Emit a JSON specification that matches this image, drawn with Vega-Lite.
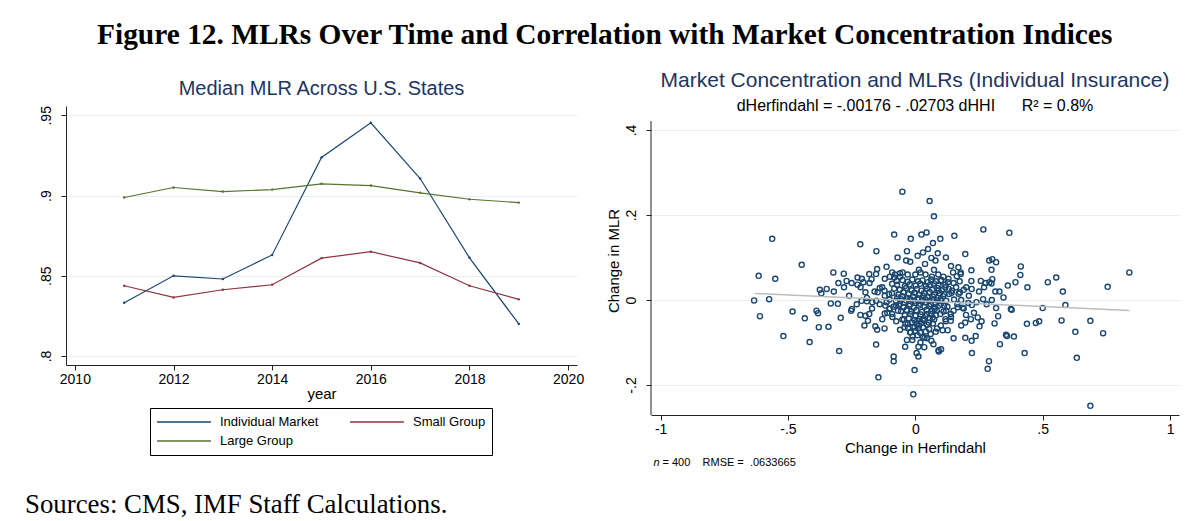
{
  "$schema": "https://vega.github.io/schema/vega-lite/v6.json",
  "background": "white",
  "padding": {"left": 25, "top": 19, "right": 5, "bottom": 5},
  "title": {"text": "Figure 12. MLRs Over Time and Correlation with Market Concentration Indices", "font": "Liberation Serif", "fontSize": 29.4, "fontWeight": "bold", "color": "#000000", "anchor": "start", "dx": 72, "offset": 20},
  "spacing": 22,
  "datasets": {
    "mlr": [
      {"year": 2011, "series": "Individual Market", "mlr": 0.8332},
      {"year": 2012, "series": "Individual Market", "mlr": 0.8500},
      {"year": 2013, "series": "Individual Market", "mlr": 0.8480},
      {"year": 2014, "series": "Individual Market", "mlr": 0.8630},
      {"year": 2015, "series": "Individual Market", "mlr": 0.9237},
      {"year": 2016, "series": "Individual Market", "mlr": 0.9453},
      {"year": 2017, "series": "Individual Market", "mlr": 0.9106},
      {"year": 2018, "series": "Individual Market", "mlr": 0.8612},
      {"year": 2019, "series": "Individual Market", "mlr": 0.8200},
      {"year": 2011, "series": "Small Group", "mlr": 0.8438},
      {"year": 2012, "series": "Small Group", "mlr": 0.8365},
      {"year": 2013, "series": "Small Group", "mlr": 0.8413},
      {"year": 2014, "series": "Small Group", "mlr": 0.8444},
      {"year": 2015, "series": "Small Group", "mlr": 0.8610},
      {"year": 2016, "series": "Small Group", "mlr": 0.8650},
      {"year": 2017, "series": "Small Group", "mlr": 0.8580},
      {"year": 2018, "series": "Small Group", "mlr": 0.8438},
      {"year": 2019, "series": "Small Group", "mlr": 0.8353},
      {"year": 2011, "series": "Large Group", "mlr": 0.8988},
      {"year": 2012, "series": "Large Group", "mlr": 0.9050},
      {"year": 2013, "series": "Large Group", "mlr": 0.9025},
      {"year": 2014, "series": "Large Group", "mlr": 0.9037},
      {"year": 2015, "series": "Large Group", "mlr": 0.9073},
      {"year": 2016, "series": "Large Group", "mlr": 0.9062},
      {"year": 2017, "series": "Large Group", "mlr": 0.9017},
      {"year": 2018, "series": "Large Group", "mlr": 0.8977},
      {"year": 2019, "series": "Large Group", "mlr": 0.8956}
    ],
    "fit": [{"x": -0.63, "y": 0.0153}, {"x": 0.84, "y": -0.0245}],
    "pts": [
{"x":-0.051,"y":0.255},{"x":0.056,"y":0.233},{"x":0.073,"y":0.197},{"x":-0.562,"y":0.144},{"x":-0.083,"y":0.154},{"x":-0.018,"y":0.144},{"x":0.024,"y":0.154},{"x":0.044,"y":0.159},{"x":0.069,"y":0.134},{"x":0.098,"y":0.144},
{"x":0.153,"y":0.151},{"x":0.267,"y":0.166},{"x":0.369,"y":0.158},{"x":-0.216,"y":0.131},{"x":-0.153,"y":0.115},{"x":-0.033,"y":0.115},{"x":0.009,"y":0.104},{"x":0.030,"y":0.112},{"x":0.088,"y":0.110},{"x":0.196,"y":0.108},
{"x":-0.036,"y":0.093},{"x":0.063,"y":0.099},{"x":0.079,"y":0.093},{"x":0.038,"y":0.085},{"x":-0.446,"y":0.083},{"x":-0.113,"y":0.078},{"x":-0.150,"y":0.073},{"x":0.014,"y":0.071},{"x":0.073,"y":0.071},{"x":0.169,"y":0.077},
{"x":0.290,"y":0.093},{"x":0.302,"y":0.096},{"x":0.317,"y":0.089},{"x":0.414,"y":0.079},{"x":0.299,"y":0.071},{"x":-0.615,"y":0.057},{"x":-0.550,"y":0.050},{"x":-0.322,"y":0.065},{"x":-0.281,"y":0.062},{"x":0.840,"y":0.065},
{"x":0.412,"y":0.059},{"x":0.553,"y":0.053},{"x":0.520,"y":0.042},{"x":0.393,"y":0.042},{"x":0.363,"y":0.034},{"x":0.755,"y":0.031},{"x":0.579,"y":0.020},{"x":0.314,"y":0.020},{"x":0.346,"y":0.006},{"x":0.266,"y":0.002},
{"x":-0.633,"y":-0.001},{"x":-0.574,"y":0.002},{"x":-0.610,"y":-0.038},{"x":-0.482,"y":-0.027},{"x":-0.434,"y":-0.043},{"x":-0.518,"y":-0.085},{"x":-0.415,"y":-0.099},{"x":-0.379,"y":-0.064},{"x":-0.341,"y":-0.063},{"x":-0.388,"y":-0.025},
{"x":-0.382,"y":-0.031},{"x":-0.332,"y":-0.008},{"x":-0.304,"y":-0.009},{"x":-0.293,"y":-0.042},{"x":-0.299,"y":-0.120},{"x":-0.375,"y":0.024},{"x":-0.348,"y":0.026},{"x":-0.369,"y":0.016},{"x":-0.302,"y":0.040},{"x":-0.270,"y":0.045},
{"x":-0.227,"y":0.053},{"x":-0.249,"y":-0.021},{"x":-0.252,"y":-0.025},{"x":-0.216,"y":-0.035},{"x":-0.196,"y":-0.037},{"x":-0.186,"y":-0.049},{"x":-0.157,"y":-0.062},{"x":-0.154,"y":-0.105},{"x":-0.145,"y":-0.182},{"x":-0.121,"y":-0.067},
{"x":-0.120,"y":-0.032},{"x":-0.085,"y":-0.133},{"x":-0.085,"y":-0.144},{"x":-0.003,"y":-0.165},{"x":-0.008,"y":-0.222},{"x":0.005,"y":-0.125},{"x":0.012,"y":-0.133},{"x":0.012,"y":-0.110},{"x":0.035,"y":-0.111},{"x":0.036,"y":-0.089},
{"x":0.063,"y":-0.096},{"x":0.071,"y":-0.104},{"x":0.091,"y":-0.118},{"x":0.101,"y":-0.116},{"x":0.092,"y":-0.121},{"x":-0.033,"y":-0.094},{"x":-0.012,"y":-0.094},{"x":0.196,"y":-0.089},{"x":0.221,"y":-0.096},{"x":0.237,"y":-0.085},
{"x":0.222,"y":-0.125},{"x":0.284,"y":-0.162},{"x":0.289,"y":-0.144},{"x":0.332,"y":-0.104},{"x":0.356,"y":-0.082},{"x":0.360,"y":-0.085},{"x":0.387,"y":-0.086},{"x":0.429,"y":-0.125},{"x":0.311,"y":-0.055},{"x":0.325,"y":-0.038},
{"x":0.317,"y":-0.019},{"x":0.375,"y":-0.021},{"x":0.378,"y":-0.023},{"x":0.438,"y":-0.056},{"x":0.473,"y":-0.054},{"x":0.486,"y":-0.050},{"x":0.500,"y":-0.019},{"x":0.574,"y":-0.048},{"x":0.589,"y":-0.012},{"x":0.628,"y":-0.075},
{"x":0.634,"y":-0.136},{"x":0.687,"y":-0.049},{"x":0.737,"y":-0.078},{"x":0.687,"y":-0.249},{"x":0.252,"y":-0.062},{"x":0.245,"y":-0.041},{"x":0.222,"y":-0.012},{"x":0.208,"y":-0.007},{"x":0.196,"y":-0.053},{"x":0.218,"y":-0.045},
{"x":0.199,"y":-0.035},{"x":0.166,"y":-0.017},{"x":0.186,"y":-0.018},{"x":0.127,"y":-0.071},{"x":0.139,"y":-0.049},{"x":0.107,"y":-0.071},{"x":0.085,"y":-0.067},{"x":0.257,"y":0.045},{"x":0.276,"y":0.040},{"x":0.291,"y":0.042},
{"x":0.302,"y":0.049},{"x":0.299,"y":0.039},{"x":0.221,"y":0.026},{"x":0.190,"y":0.024},{"x":0.175,"y":0.018},{"x":0.174,"y":0.044},{"x":0.178,"y":0.061},{"x":0.148,"y":0.065},{"x":0.163,"y":0.056},{"x":0.178,"y":0.065},
{"x":0.091,"y":0.022},{"x":0.100,"y":0.045},{"x":-0.154,"y":0.061},{"x":-0.181,"y":0.061},{"x":-0.172,"y":0.049},{"x":-0.204,"y":0.042},{"x":-0.227,"y":0.036},{"x":-0.215,"y":0.030},{"x":-0.196,"y":0.018},{"x":-0.211,"y":-0.002},
{"x":-0.190,"y":-0.003},{"x":-0.169,"y":-0.005},{"x":-0.148,"y":0.018},{"x":-0.140,"y":0.028},{"x":-0.121,"y":0.022},{"x":-0.103,"y":0.014},{"x":-0.091,"y":0.038},{"x":-0.083,"y":0.053},{"x":-0.060,"y":0.063},{"x":-0.091,"y":0.065},
{"x":-0.073,"y":0.045},{"x":-0.113,"y":-0.005},{"x":-0.154,"y":-0.002},{"x":-0.181,"y":-0.033},{"x":-0.118,"y":-0.013},{"x":-0.101,"y":-0.021},{"x":-0.091,"y":-0.033},{"x":-0.076,"y":-0.013},{"x":-0.068,"y":-0.025},{"x":-0.045,"y":-0.045},
{"x":-0.042,"y":-0.064},{"x":-0.030,"y":-0.056},{"x":-0.018,"y":-0.076},{"x":-0.003,"y":-0.064},{"x":0.015,"y":-0.060},{"x":0.008,"y":-0.049},{"x":0.030,"y":-0.045},{"x":0.053,"y":-0.053},{"x":0.068,"y":-0.041},{"x":0.045,"y":-0.033},
{"x":0.076,"y":-0.021},{"x":0.098,"y":-0.033},{"x":0.118,"y":-0.045},{"x":0.121,"y":-0.025},{"x":0.139,"y":-0.033},{"x":0.113,"y":-0.013},{"x":0.133,"y":0.014},{"x":0.144,"y":0.022},{"x":0.128,"y":0.042},{"x":0.118,"y":0.030},
{"x":-0.05,"y":0.047},{"x":-0.03,"y":0.043},{"x":-0.012,"y":0.048},{"x":0.011,"y":0.044},{"x":0.028,"y":0.046},{"x":0.049,"y":0.042},{"x":0.062,"y":0.048},{"x":0.081,"y":0.044},{"x":0.102,"y":0.047},
{"x":-0.072,"y":0.036},{"x":-0.041,"y":0.033},{"x":-0.022,"y":0.037},{"x":0.002,"y":0.034},{"x":0.019,"y":0.038},{"x":0.041,"y":0.033},{"x":0.058,"y":0.036},{"x":0.073,"y":0.039},{"x":0.091,"y":0.034},{"x":0.118,"y":0.036},
{"x":-0.083,"y":0.027},{"x":-0.061,"y":0.024},{"x":-0.036,"y":0.028},{"x":-0.014,"y":0.023},{"x":0.006,"y":0.026},{"x":0.024,"y":0.022},{"x":0.046,"y":0.027},{"x":0.066,"y":0.024},{"x":0.087,"y":0.028},{"x":0.104,"y":0.023},{"x":0.131,"y":0.026},
{"x":-0.092,"y":0.016},{"x":-0.066,"y":0.013},{"x":-0.047,"y":0.018},{"x":-0.026,"y":0.014},{"x":-0.004,"y":0.017},{"x":0.016,"y":0.012},{"x":0.034,"y":0.016},{"x":0.056,"y":0.019},{"x":0.074,"y":0.013},{"x":0.096,"y":0.016},{"x":0.113,"y":0.014},{"x":0.142,"y":0.017},
{"x":-0.071,"y":0.006},{"x":-0.052,"y":0.009},{"x":-0.031,"y":0.005},{"x":-0.009,"y":0.008},{"x":0.012,"y":0.004},{"x":0.031,"y":0.009},{"x":0.048,"y":0.006},{"x":0.069,"y":0.008},{"x":0.088,"y":0.005},{"x":0.109,"y":0.009},
{"x":-0.101,"y":0.001},{"x":-0.076,"y":-0.002},{"x":-0.056,"y":0.002},{"x":-0.036,"y":-0.001},{"x":-0.019,"y":0.002},{"x":-0.004,"y":-0.002},{"x":0.009,"y":0.001},{"x":0.026,"y":-0.001},{"x":0.039,"y":0.002},{"x":0.054,"y":-0.002},{"x":0.071,"y":0.001},{"x":0.086,"y":-0.001},{"x":0.099,"y":0.002},{"x":0.121,"y":-0.002},{"x":0.152,"y":0.001},
{"x":-0.061,"y":-0.009},{"x":-0.042,"y":-0.006},{"x":-0.021,"y":-0.010},{"x":0.001,"y":-0.007},{"x":0.019,"y":-0.009},{"x":0.042,"y":-0.006},{"x":0.061,"y":-0.010},{"x":0.079,"y":-0.007},{"x":0.101,"y":-0.009},
{"x":-0.086,"y":-0.016},{"x":-0.064,"y":-0.013},{"x":-0.046,"y":-0.017},{"x":-0.024,"y":-0.014},{"x":-0.006,"y":-0.018},{"x":0.014,"y":-0.013},{"x":0.036,"y":-0.016},{"x":0.054,"y":-0.014},{"x":0.076,"y":-0.017},{"x":0.094,"y":-0.013},{"x":0.126,"y":-0.016},
{"x":-0.056,"y":-0.026},{"x":-0.034,"y":-0.023},{"x":-0.016,"y":-0.027},{"x":0.004,"y":-0.024},{"x":0.026,"y":-0.028},{"x":0.044,"y":-0.023},{"x":0.066,"y":-0.026},{"x":0.084,"y":-0.024},{"x":0.111,"y":-0.027},
{"x":-0.041,"y":-0.036},{"x":-0.019,"y":-0.033},{"x":0.001,"y":-0.037},{"x":0.021,"y":-0.034},{"x":0.039,"y":-0.038},{"x":0.061,"y":-0.033},{"x":0.081,"y":-0.036},
{"x":-0.051,"y":-0.046},{"x":-0.026,"y":-0.043},{"x":-0.004,"y":-0.047},{"x":0.016,"y":-0.044},{"x":0.034,"y":-0.048},{"x":0.056,"y":-0.043},{"x":0.074,"y":-0.046},
{"x":-0.039,"y":-0.056},{"x":-0.014,"y":-0.053},{"x":0.006,"y":-0.057},{"x":0.024,"y":-0.054},{"x":0.046,"y":-0.058},{"x":0.069,"y":-0.055},
{"x":-0.029,"y":-0.066},{"x":-0.009,"y":-0.063},{"x":0.011,"y":-0.067},{"x":0.031,"y":-0.064},{"x":0.054,"y":-0.068},
{"x":-0.021,"y":-0.076},{"x":0.001,"y":-0.073},{"x":0.019,"y":-0.077},{"x":0.041,"y":-0.074},
{"x":-0.011,"y":-0.086},{"x":0.009,"y":-0.083},{"x":0.029,"y":-0.087},
{"x":-0.13,"y":0.03},{"x":-0.12,"y":0.01},{"x":-0.14,"y":-0.01},{"x":-0.11,"y":-0.03},{"x":-0.13,"y":-0.045},{"x":-0.16,"y":0.02},{"x":-0.18,"y":0.04},{"x":-0.17,"y":-0.02},{"x":-0.19,"y":0.005},{"x":-0.12,"y":0.05},
{"x":-0.10,"y":0.055},{"x":-0.08,"y":0.06},{"x":-0.06,"y":0.055},{"x":-0.05,"y":0.065},{"x":-0.03,"y":0.06},{"x":0.0,"y":0.06},{"x":0.02,"y":0.065},{"x":0.04,"y":0.06},{"x":0.065,"y":0.055},{"x":0.09,"y":0.06},
{"x":0.11,"y":0.055},{"x":0.13,"y":0.05},{"x":0.15,"y":0.04},{"x":0.16,"y":0.03},{"x":0.17,"y":0.015},{"x":0.18,"y":0.0},{"x":0.165,"y":-0.01},{"x":0.15,"y":-0.025},{"x":0.14,"y":-0.04},{"x":0.12,"y":-0.05},
{"x":0.10,"y":-0.06},{"x":0.08,"y":-0.075},{"x":0.06,"y":-0.08},{"x":0.045,"y":-0.09},{"x":-0.06,"y":-0.07},{"x":-0.075,"y":-0.05},{"x":-0.09,"y":-0.04},{"x":-0.10,"y":-0.02},{"x":0.20,"y":0.03},{"x":0.21,"y":0.01},
{"x":0.19,"y":-0.02},{"x":0.22,"y":0.045},{"x":0.23,"y":-0.03},{"x":0.25,"y":0.02},{"x":0.24,"y":-0.005},{"x":0.27,"y":0.03},{"x":0.28,"y":-0.01},
{"x":-0.26,"y":0.01},{"x":-0.23,"y":-0.01},{"x":-0.28,"y":0.03},{"x":-0.21,"y":0.05},{"x":-0.25,"y":0.04},{"x":-0.32,"y":0.02},{"x":0.26,"y":-0.05},{"x":0.30,"y":0.0},{"x":0.33,"y":0.02},{"x":0.22,"y":0.07},
{"x":0.14,"y":0.08},{"x":0.12,"y":0.10},{"x":-0.02,"y":0.09},{"x":-0.07,"y":0.10},{"x":0.05,"y":0.12},{"x":0.02,"y":-0.10},{"x":-0.04,"y":-0.11},{"x":0.15,"y":-0.09},{"x":0.18,"y":-0.06},{"x":-0.15,"y":-0.07},
{"x":0.44,"y":0.03},{"x":-0.20,"y":-0.06}
    ],
    "one": [{"k": 1}]
  },
  "config": {
    "view": {"stroke": null},
    "font": "Liberation Sans",
    "axis": {"domainColor": "#222222", "tickColor": "#222222", "labelColor": "#000000", "titleColor": "#000000", "labelFont": "Liberation Sans", "titleFont": "Liberation Sans", "titleFontWeight": "normal", "labelFontSize": 14, "titleFontSize": 15, "tickSize": 5, "gridColor": "#e5eef1", "gridWidth": 1}
  },
  "hconcat": [
    {
      "width": 511,
      "height": 259,
      "title": {"text": "Median MLR Across U.S. States", "font": "Liberation Sans", "fontSize": 20, "fontWeight": "normal", "color": "#1e3560", "offset": 7},
      "layer": [
        {
          "data": {"name": "mlr"},
          "encoding": {
            "x": {"field": "year", "type": "quantitative", "scale": {"domain": [2009.82, 2020.18], "nice": false, "zero": false}, "axis": {"values": [2010, 2012, 2014, 2016, 2018, 2020], "format": "d", "grid": false, "title": "year", "labelPadding": 2, "titlePadding": 0}},
            "y": {"field": "mlr", "type": "quantitative", "scale": {"domain": [0.7944, 0.9558], "nice": false, "zero": false}, "axis": {"values": [0.8, 0.85, 0.9, 0.95], "labelExpr": "replace('.' + format(round(datum.value*100), 'd'), /0$/, '')", "grid": true, "title": null, "labelAngle": -90, "labelAlign": "center", "labelBaseline": "bottom", "labelPadding": 8}},
            "color": {"field": "series", "type": "nominal", "sort": ["Individual Market", "Small Group", "Large Group"], "scale": {"domain": ["Individual Market", "Small Group", "Large Group"], "range": ["#1a476f", "#90353b", "#55752f"]},
              "legend": {"title": null, "orient": "none", "legendX": 84, "legendY": 302, "columns": 2, "direction": "horizontal", "symbolType": "stroke", "symbolSize": 2900, "symbolStrokeWidth": 1.3, "clipHeight": 16, "labelFontSize": 13, "labelFont": "Liberation Sans", "labelColor": "#000000", "strokeColor": "#000000", "padding": 6, "columnPadding": 30, "rowPadding": 3, "labelOffset": 8, "labelLimit": 300}}
          },
          "layer": [
            {"mark": {"type": "line", "strokeWidth": 1.2}},
            {"mark": {"type": "point", "filled": true, "size": 6, "opacity": 1}}
          ]
        },
        {
          "data": {"name": "one"},
          "mark": {"type": "text", "align": "left", "baseline": "middle", "font": "Liberation Serif", "fontSize": 26.8, "color": "#000000", "clip": false},
          "encoding": {
            "x": {"datum": 2008.99, "type": "quantitative"},
            "y": {"datum": 0.7072, "type": "quantitative"},
            "text": {"value": "Sources: CMS, IMF Staff Calculations."}
          }
        }
      ]
    },
    {
      "width": 528,
      "height": 309,
      "title": {"text": "Market Concentration and MLRs (Individual Insurance)", "subtitle": "dHerfindahl = -.00176 - .02703 dHHI\u00a0\u00a0\u00a0\u00a0\u00a0\u00a0R² = 0.8%", "font": "Liberation Sans", "fontSize": 21, "fontWeight": "normal", "color": "#1e3560", "subtitleFont": "Liberation Sans", "subtitleFontSize": 16, "subtitleColor": "#000000", "subtitlePadding": 7, "offset": -8},
      "layer": [
        {
          "data": {"name": "pts"},
          "mark": {"type": "point", "shape": "circle", "filled": false, "size": 26, "strokeWidth": 1.4, "color": "#1a476f", "opacity": 1},
          "encoding": {
            "x": {"field": "x", "type": "quantitative", "scale": {"domain": [-1.0377, 1.035], "nice": false, "zero": false}, "axis": {"values": [-1, -0.5, 0, 0.5, 1], "labelExpr": "datum.value == 0 ? '0' : (datum.value < 0 ? '-' : '') + (abs(datum.value) == 1 ? '1' : '.5')", "grid": false, "title": "Change in Herfindahl", "labelPadding": 2, "titlePadding": 4}},
            "y": {"field": "y", "type": "quantitative", "scale": {"domain": [-0.2706, 0.4565], "nice": false, "zero": false}, "axis": {"values": [-0.2, 0, 0.2, 0.4], "labelExpr": "datum.value == 0 ? '0' : (datum.value < 0 ? '-.' : '.') + format(round(abs(datum.value)*10), 'd')", "grid": true, "domain": false, "title": "Change in MLR", "labelAngle": -90, "labelAlign": "center", "labelBaseline": "bottom", "labelPadding": 8, "titlePadding": 3}}
          }
        },
        {
          "data": {"name": "fit"},
          "mark": {"type": "line", "color": "#bdbdbd", "strokeWidth": 1.5},
          "encoding": {
            "x": {"field": "x", "type": "quantitative"},
            "y": {"field": "y", "type": "quantitative"}
          }
        },
        {
          "data": {"name": "one"},
          "mark": {"type": "rule", "color": "#222222", "strokeWidth": 1},
          "encoding": {
            "x": {"datum": -1.0377, "type": "quantitative"},
            "y": {"datum": -0.2706, "type": "quantitative"},
            "y2": {"datum": 0.4212}
          }
        },
        {
          "data": {"name": "one"},
          "mark": {"type": "text", "align": "left", "baseline": "middle", "fontSize": 11, "fontStyle": "italic", "font": "Liberation Sans", "color": "#000000", "clip": false},
          "encoding": {"x": {"datum": -1.028, "type": "quantitative"}, "y": {"datum": -0.3835, "type": "quantitative"}, "text": {"value": "n"}}
        },
        {
          "data": {"name": "one"},
          "mark": {"type": "text", "align": "left", "baseline": "middle", "fontSize": 11, "font": "Liberation Sans", "color": "#000000", "dx": 9, "clip": false},
          "encoding": {"x": {"datum": -1.028, "type": "quantitative"}, "y": {"datum": -0.3835, "type": "quantitative"}, "text": {"value": "= 400\u00a0\u00a0\u00a0\u00a0RMSE =\u00a0\u00a0.0633665"}}
        }
      ]
    }
  ]
}
